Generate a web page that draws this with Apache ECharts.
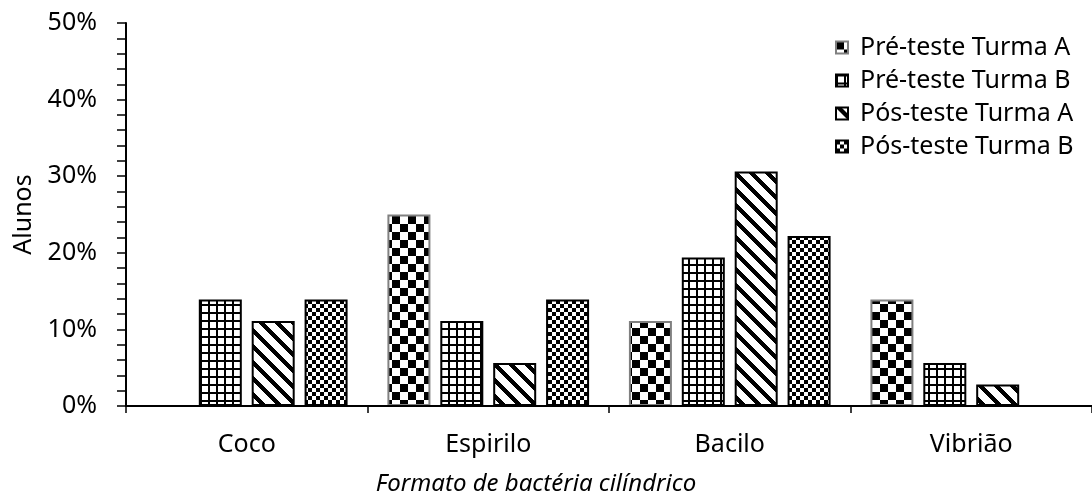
<!DOCTYPE html>
<html>
<head>
<meta charset="utf-8">
<script src="https://cdn.jsdelivr.net/npm/echarts@6/dist/echarts.min.js"></script>
<style>
html,body{margin:0;padding:0;background:#fff;}
#chart{width:1092px;height:501px;}
</style>
</head>
<body>
<div id="chart"></div>
<script>
// ---- data ----
var categories = ['Coco', 'Espirilo', 'Bacilo', 'Vibrião'];
var seriesNames = ['Pré-teste Turma A', 'Pré-teste Turma B', 'Pós-teste Turma A', 'Pós-teste Turma B'];
var preTesteA = [0, 25.0, 11.1, 13.9];
var preTesteB = [13.9, 11.1, 19.4, 5.6];
var posTesteA = [11.1, 5.6, 30.6, 2.8];
var posTesteB = [13.9, 13.9, 22.2, 0];
var yTicks = [0, 10, 20, 30, 40, 50];
var xTitle = 'Formato de bactéria cilíndrico';
var yTitle = 'Alunos';

// ---- patterns ----
function makePattern(size, fn) {
  var c = document.createElement('canvas');
  c.width = size; c.height = size;
  var ctx = c.getContext('2d');
  ctx.fillStyle = '#fff';
  ctx.fillRect(0, 0, size, size);
  ctx.fillStyle = '#000';
  for (var y = 0; y < size; y++) {
    for (var x = 0; x < size; x++) {
      if (fn(x, y)) ctx.fillRect(x, y, 1, 1);
    }
  }
  return { image: c, repeat: 'repeat' };
}
var patCheckerLarge = makePattern(16, function (x, y) { return ((Math.floor(x / 8) + Math.floor(y / 8)) % 2) === 0; });
var patGrid = makePattern(8, function (x, y) { return x < 2 || y < 2; });
var patDiag = makePattern(16, function (x, y) { return (((x - y) % 16) + 16) % 16 < 6; });
var patCheckerSmall = makePattern(8, function (x, y) { return ((Math.floor(x / 4) + Math.floor(y / 4)) % 2) === 0; });

var FONT = 'Noto Sans';
var chart = echarts.init(document.getElementById('chart'), null, { renderer: 'canvas' });

function barSeries(name, data, pattern, border) {
  return {
    name: name,
    type: 'bar',
    data: data,
    barWidth: 43,
    barGap: '23%',
    z: 2,
    itemStyle: { color: pattern, borderColor: border, borderWidth: 2 },
    emphasis: { disabled: true }
  };
}

chart.setOption({
  animation: false,
  backgroundColor: '#fff',
  grid: { left: 126, right: -5, top: 23, bottom: 95, containLabel: false },
  legend: {
    orient: 'vertical',
    left: 830,
    top: 30,
    itemWidth: 12,
    itemHeight: 12,
    itemGap: 8,
    icon: 'rect',
    data: seriesNames,
    textStyle: { fontFamily: FONT, fontSize: 25, color: '#000', padding: [0, 0, 0, 7] }
  },
  xAxis: {
    type: 'category',
    data: categories,
    z: 5,
    axisLine: { lineStyle: { color: '#000', width: 2 } },
    axisTick: { show: true, length: 7, lineStyle: { color: '#000', width: 1.5 } },
    axisLabel: { fontFamily: FONT, fontSize: 25, color: '#000', margin: 26 },
    splitLine: { show: false }
  },
  yAxis: {
    type: 'value',
    min: yTicks[0],
    max: yTicks[yTicks.length - 1],
    interval: 10,
    name: yTitle,
    nameLocation: 'middle',
    nameGap: 90,
    nameTextStyle: { fontFamily: FONT, fontSize: 25, color: '#000' },
    axisLine: { show: true, lineStyle: { color: '#000', width: 2 } },
    axisTick: { show: true, length: 9, lineStyle: { color: '#000', width: 1.5 } },
    minorTick: { show: true, splitNumber: 5, length: 9, lineStyle: { color: '#000', width: 1.5 } },
    axisLabel: { fontFamily: FONT, fontSize: 25, color: '#000', margin: 29, formatter: '{value}%' },
    splitLine: { show: false }
  },
  graphic: [{
    type: 'text',
    x: 536,
    y: 484,
    style: {
      text: xTitle,
      fontFamily: FONT,
      fontSize: 24,
      fontStyle: 'italic',
      fill: '#000',
      textAlign: 'center',
      textVerticalAlign: 'middle'
    }
  }],
  series: [
    barSeries(seriesNames[0], preTesteA, patCheckerLarge, '#808080'),
    barSeries(seriesNames[1], preTesteB, patGrid, '#000'),
    barSeries(seriesNames[2], posTesteA, patDiag, '#000'),
    barSeries(seriesNames[3], posTesteB, patCheckerSmall, '#000')
  ]
});
</script>
</body>
</html>
